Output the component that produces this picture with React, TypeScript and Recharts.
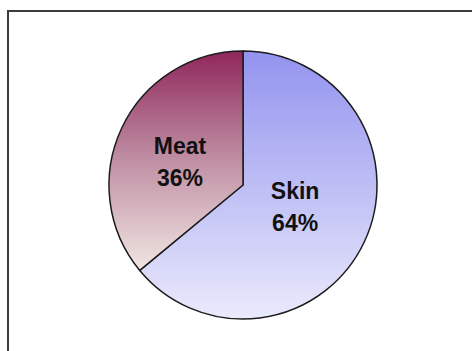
import React from 'react';
import { PieChart, Pie, Cell } from 'recharts';

// Share of the total by part
const categories = ['Skin', 'Meat'];
const shares = [64, 36];

const data = categories.map((name, i) => ({ name, value: shares[i] }));

const W = 472;
const H = 351;
const CX = 243;
const CY = 185;
const R = 134;

// Per-slice label distance from the centre (fraction of the radius) and vertical nudge
const labelRadius = [0.43, 0.52];
const labelNudge = [-5, 5];

const renderLabel = (props: any) => {
  const { cx, cy, midAngle, outerRadius, index, name, value } = props;
  const RAD = Math.PI / 180;
  const r = outerRadius * labelRadius[index];
  const x = cx + r * Math.cos(-midAngle * RAD);
  const y = cy + r * Math.sin(-midAngle * RAD) + labelNudge[index];
  return (
    <text
      x={x}
      y={y}
      textAnchor="middle"
      fill="#111"
      fontFamily="'Liberation Sans', Arial, sans-serif"
      fontWeight="bold"
      fontSize={23}
    >
      <tspan x={x} dy={-6}>{name}</tspan>
      <tspan x={x} dy={32}>{`${value}%`}</tspan>
    </text>
  );
};

export default function App() {
  return (
    <div style={{ position: 'fixed', left: 0, top: 0, width: W, height: H, overflow: 'hidden', background: '#fff' }}>
      <div
        style={{
          position: 'absolute',
          left: 7,
          top: 10,
          width: 480,
          height: 360,
          borderTop: '2px solid #3c3c3c',
          borderLeft: '2px solid #3c3c3c',
        }}
      />
      <div style={{ position: 'absolute', left: 0, top: 0 }}>
        <PieChart width={W} height={H} margin={{ top: 0, right: 0, bottom: 0, left: 0 }}>
          <defs>
            <linearGradient id="gradSkin" gradientUnits="userSpaceOnUse" x1="0" y1={CY - R} x2="0" y2={CY + R}>
              <stop offset="0%" stopColor="#9393ef" />
              <stop offset="55%" stopColor="#c2c2f6" />
              <stop offset="100%" stopColor="#eaeafc" />
            </linearGradient>
            <linearGradient id="gradMeat" gradientUnits="userSpaceOnUse" x1="0" y1={CY - R} x2="0" y2={CY + 95}>
              <stop offset="0%" stopColor="#8f265b" />
              <stop offset="45%" stopColor="#bd8aa0" />
              <stop offset="100%" stopColor="#f5eee8" />
            </linearGradient>
          </defs>
          <Pie
            data={data}
            dataKey="value"
            nameKey="name"
            cx={CX}
            cy={CY}
            outerRadius={R}
            startAngle={90}
            endAngle={-270}
            stroke="#1c1c1c"
            strokeWidth={1.5}
            labelLine={false}
            label={renderLabel}
            isAnimationActive={false}
          >
            <Cell fill="url(#gradSkin)" />
            <Cell fill="url(#gradMeat)" />
          </Pie>
        </PieChart>
      </div>
    </div>
  );
}
